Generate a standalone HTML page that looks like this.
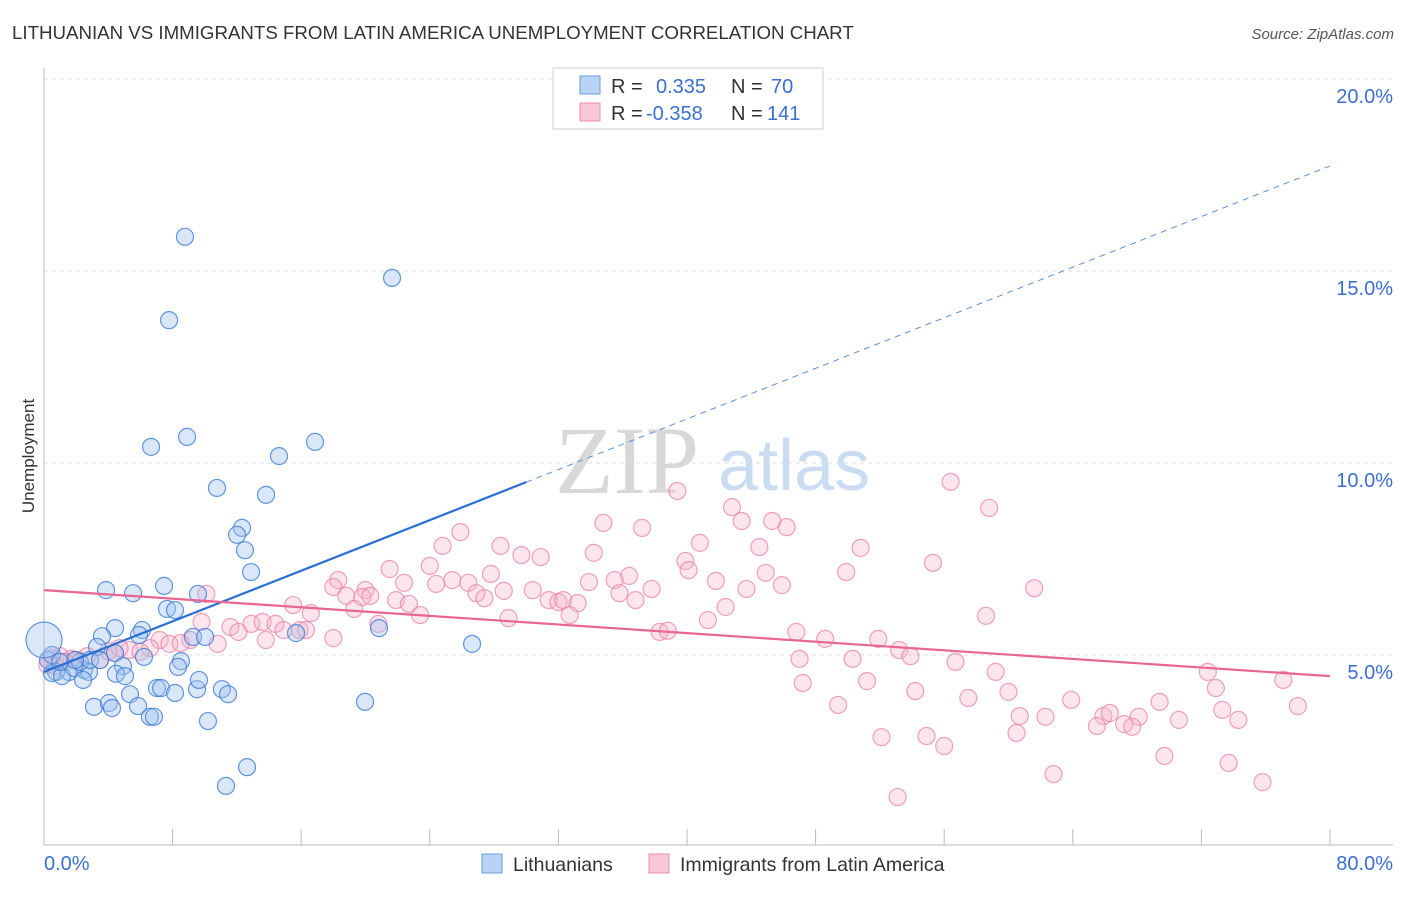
<!DOCTYPE html>
<html><head><meta charset="utf-8"><style>
body{margin:0;background:#fff;font-family:"Liberation Sans",sans-serif;}
svg text{font-family:"Liberation Sans",sans-serif;}
</style></head><body>
<svg id="chart" width="1406" height="892" viewBox="0 0 1406 892" xmlns="http://www.w3.org/2000/svg">
<text x="12" y="39" font-size="18.7" fill="#333">LITHUANIAN VS IMMIGRANTS FROM LATIN AMERICA UNEMPLOYMENT CORRELATION CHART</text>
<text x="1394" y="39" font-size="15" fill="#555" font-style="italic" text-anchor="end">Source: ZipAtlas.com</text>
<g>
<text x="555" y="493" font-size="96" fill="#d8d8d8" font-family="Liberation Serif, serif" style="font-family:'Liberation Serif',serif">ZIP</text>
<text x="718" y="490" font-size="72" fill="#c9dcf2">atlas</text>
</g>
<g id="grid"></g>
<g id="axes"></g>
<g id="marks"></g>
<text x="34" y="456" font-size="17" fill="#333" text-anchor="middle" transform="rotate(-90 34 456)">Unemployment</text>
<g>
<rect x="553" y="68" width="270" height="61" fill="#fff" stroke="#ccc"/>
<rect x="580" y="76" width="20" height="18" fill="#b9d3f5" stroke="#6a9ee0"/>
<rect x="580" y="103" width="20" height="18" fill="#f9c6d6" stroke="#ea8fac"/>
<text x="611" y="93" font-size="20" fill="#333">R = </text><text x="656" y="93" font-size="20" fill="#3b6fd4">0.335</text>
<text x="731" y="93" font-size="20" fill="#333">N = </text><text x="771" y="93" font-size="20" fill="#3b6fd4">70</text>
<text x="611" y="120" font-size="20" fill="#333">R = </text><text x="646" y="120" font-size="20" fill="#3b6fd4">-0.358</text>
<text x="731" y="120" font-size="20" fill="#333">N = </text><text x="767" y="120" font-size="20" fill="#3b6fd4">141</text>
</g>
<g>
<rect x="482" y="854" width="20" height="19" fill="#b9d3f5" stroke="#6a9ee0"/>
<text x="513" y="871" font-size="19.5" fill="#333">Lithuanians</text>
<rect x="649" y="854" width="20" height="19" fill="#f9c6d6" stroke="#ea8fac"/>
<text x="680" y="871" font-size="19.5" fill="#333">Immigrants from Latin America</text>
</g>
</svg>
<script>
const blueX=[8.77,21.65,7.78,6.66,8.90,16.86,14.62,10.76,13.81,12.32,12.01,12.50,12.88,3.86,5.54,7.47,9.58,7.65,8.15,4.42,6.10,3.61,5.91,9.27,10.02,15.68,20.84,26.63,3.30,6.22,4.42,8.52,8.34,4.91,4.48,5.04,2.49,2.80,1.56,0.75,0.50,1.12,1.87,2.24,2.86,3.48,1.93,2.43,7.03,7.28,5.35,9.52,11.07,11.45,9.64,8.15,3.11,4.04,4.23,5.85,6.59,6.84,10.20,19.97,12.63,11.32,0.25,0.50,1.00];
const blueY=[15.89,14.82,13.72,10.42,10.68,10.55,10.18,9.35,9.17,8.31,8.13,7.73,7.16,6.69,6.61,6.80,6.59,6.20,6.17,5.70,5.65,5.49,5.52,5.47,5.47,5.57,5.70,5.29,5.21,4.95,5.05,4.84,4.69,4.71,4.51,4.45,4.61,4.56,4.56,4.56,4.53,4.45,4.66,4.82,4.87,4.87,4.87,4.35,4.14,4.14,3.98,4.11,4.11,3.98,4.35,4.01,3.65,3.75,3.62,3.67,3.39,3.39,3.28,3.78,2.08,1.59,4.87,5.00,4.82];
const pinkX=[39.4,56.4,58.8,34.8,37.2,25.9,42.8,43.4,45.3,46.2,24.8,28.4,29.7,30.9,34.2,40.8,44.5,50.8,55.3,39.9,21.5,24.0,25.4,27.8,36.4,18.3,20.0,22.4,24.4,26.4,26.9,27.4,28.6,30.4,31.4,32.0,32.3,33.2,33.9,35.5,35.8,36.8,37.8,40.1,41.8,43.7,44.9,45.9,49.9,61.6,15.5,16.6,18.0,18.8,19.3,19.8,20.3,21.9,22.7,23.4,28.9,32.7,42.4,41.3,58.6,10.1,9.8,11.6,12.1,12.9,13.6,14.4,15.9,16.3,13.8,14.9,20.8,18.0,38.3,38.8,46.8,48.6,51.9,53.2,53.9,47.0,50.3,56.7,59.2,72.4,72.9,77.1,47.2,51.2,54.2,57.5,60.0,63.9,49.4,69.4,73.3,78.0,60.7,62.3,65.9,66.3,68.1,70.6,74.3,65.5,67.2,67.7,52.1,54.9,56.0,60.5,69.7,62.8,73.7,75.8,53.1,9.1,7.2,6.6,5.3,4.4,3.5,2.7,1.7,1.0,0.4,0.2,0.7,7.8,8.5,6.0,4.7,1.3,2.1,4.0,10.8];
const pinkY=[9.27,9.51,8.83,8.44,8.31,8.20,8.85,8.49,8.49,8.33,7.84,7.84,7.60,7.55,7.66,7.92,7.81,7.79,7.40,7.45,7.24,7.32,6.95,7.11,7.06,6.95,6.69,6.88,6.85,6.88,6.61,6.48,6.67,6.69,6.43,6.38,6.43,6.35,6.90,6.95,6.61,6.43,6.72,7.21,6.93,6.72,7.14,6.82,7.16,6.74,6.30,6.09,6.77,6.54,6.20,6.51,6.54,6.43,6.33,6.04,5.96,6.04,6.25,5.91,6.02,6.59,5.86,5.73,5.60,5.81,5.86,5.81,5.65,5.65,5.39,5.65,5.81,5.44,5.60,5.63,5.60,5.42,5.42,5.13,4.97,4.90,4.90,4.82,4.56,4.56,4.14,4.35,4.27,4.32,4.06,3.88,4.04,3.83,3.70,3.78,3.57,3.67,3.41,3.39,3.41,3.49,3.39,3.31,3.31,3.15,3.20,3.13,2.86,2.89,2.63,2.97,2.37,1.90,2.19,1.69,1.30,5.39,5.39,5.18,5.13,5.05,4.87,4.97,4.90,4.97,4.92,4.74,4.71,5.29,5.31,5.08,5.18,4.82,4.87,5.10,5.29];
const xTicks=[0,10,20,30,40,50,60,70,80];
const yTicks=[5,10,15,20];
const yTickLabels=["5.0%","10.0%","15.0%","20.0%"];
const blueTrend={b0:4.56,b1:0.1647,solidEnd:30};
const pinkTrend={b0:6.69,b1:-0.028};
const NS="http://www.w3.org/2000/svg";
const sx=v=>44+v*(1286/80);
const sy=v=>847-v*38.4;
function mk(tag,attrs,parent){const e=document.createElementNS(NS,tag);for(const k in attrs)e.setAttribute(k,attrs[k]);parent.appendChild(e);return e;}
const grid=document.getElementById('grid'),axes=document.getElementById('axes'),marks=document.getElementById('marks');
yTicks.forEach((t,i)=>{
  const l=mk('line',{x1:44,x2:1393,y1:sy(t),y2:sy(t),stroke:'#ddd','stroke-dasharray':'4,4'},grid);
  
  
  const tx=mk('text',{x:1393,y:sy(t)+24,'font-size':20,fill:'#3b6fd4','text-anchor':'end'},axes);
  tx.textContent=yTickLabels[i];
  
  
});
const al=mk('line',{x1:44,x2:44,y1:68,y2:845,stroke:'#bbb'},axes);


const bl=mk('line',{x1:44,x2:1393,y1:845,y2:845,stroke:'#bbb'},axes);


for(let v=0;v<=80;v+=8){
  const tk=mk('line',{x1:sx(v),x2:sx(v),y1:829,y2:845,stroke:'#bbb'},axes);
  
  
}
const x0=mk('text',{x:44,y:870,'font-size':20,fill:'#3b6fd4'},axes);x0.textContent=xTicks[0].toFixed(1)+'%';


const x1=mk('text',{x:1393,y:870,'font-size':20,fill:'#3b6fd4','text-anchor':'end'},axes);x1.textContent=xTicks[xTicks.length-1].toFixed(1)+'%';


pinkX.forEach((x,i)=>{
  const c=mk('circle',{cx:sx(x),cy:sy(pinkY[i]),r:8.5,fill:'rgba(248,180,202,0.35)',stroke:'rgba(234,130,165,0.75)','stroke-width':1.2},marks);
  
  
});
blueX.forEach((x,i)=>{
  const c=mk('circle',{cx:sx(x),cy:sy(blueY[i]),r:8.5,fill:'rgba(160,195,240,0.4)',stroke:'rgba(60,125,215,0.8)','stroke-width':1.2},marks);
  
  
});
const big=mk('circle',{cx:sx(0),cy:sy(5.39),r:18,fill:'rgba(160,195,240,0.4)',stroke:'rgba(60,125,215,0.8)','stroke-width':1.2},marks);


const bt=v=>blueTrend.b0+blueTrend.b1*v, pt=v=>pinkTrend.b0+pinkTrend.b1*v;
const l1=mk('line',{x1:sx(0),y1:sy(bt(0)),x2:sx(blueTrend.solidEnd),y2:sy(bt(blueTrend.solidEnd)),stroke:'#2a6fd6','stroke-width':2.2},marks);


const l2=mk('line',{x1:sx(blueTrend.solidEnd),y1:sy(bt(blueTrend.solidEnd)),x2:sx(80),y2:sy(bt(80)),stroke:'#5b8fd8','stroke-width':1,'stroke-dasharray':'6,5'},marks);


const l3=mk('line',{x1:sx(0),y1:sy(pt(0)),x2:sx(80),y2:sy(pt(80)),stroke:'#e8668f','stroke-width':2.2},marks);


</script>
</body></html>
